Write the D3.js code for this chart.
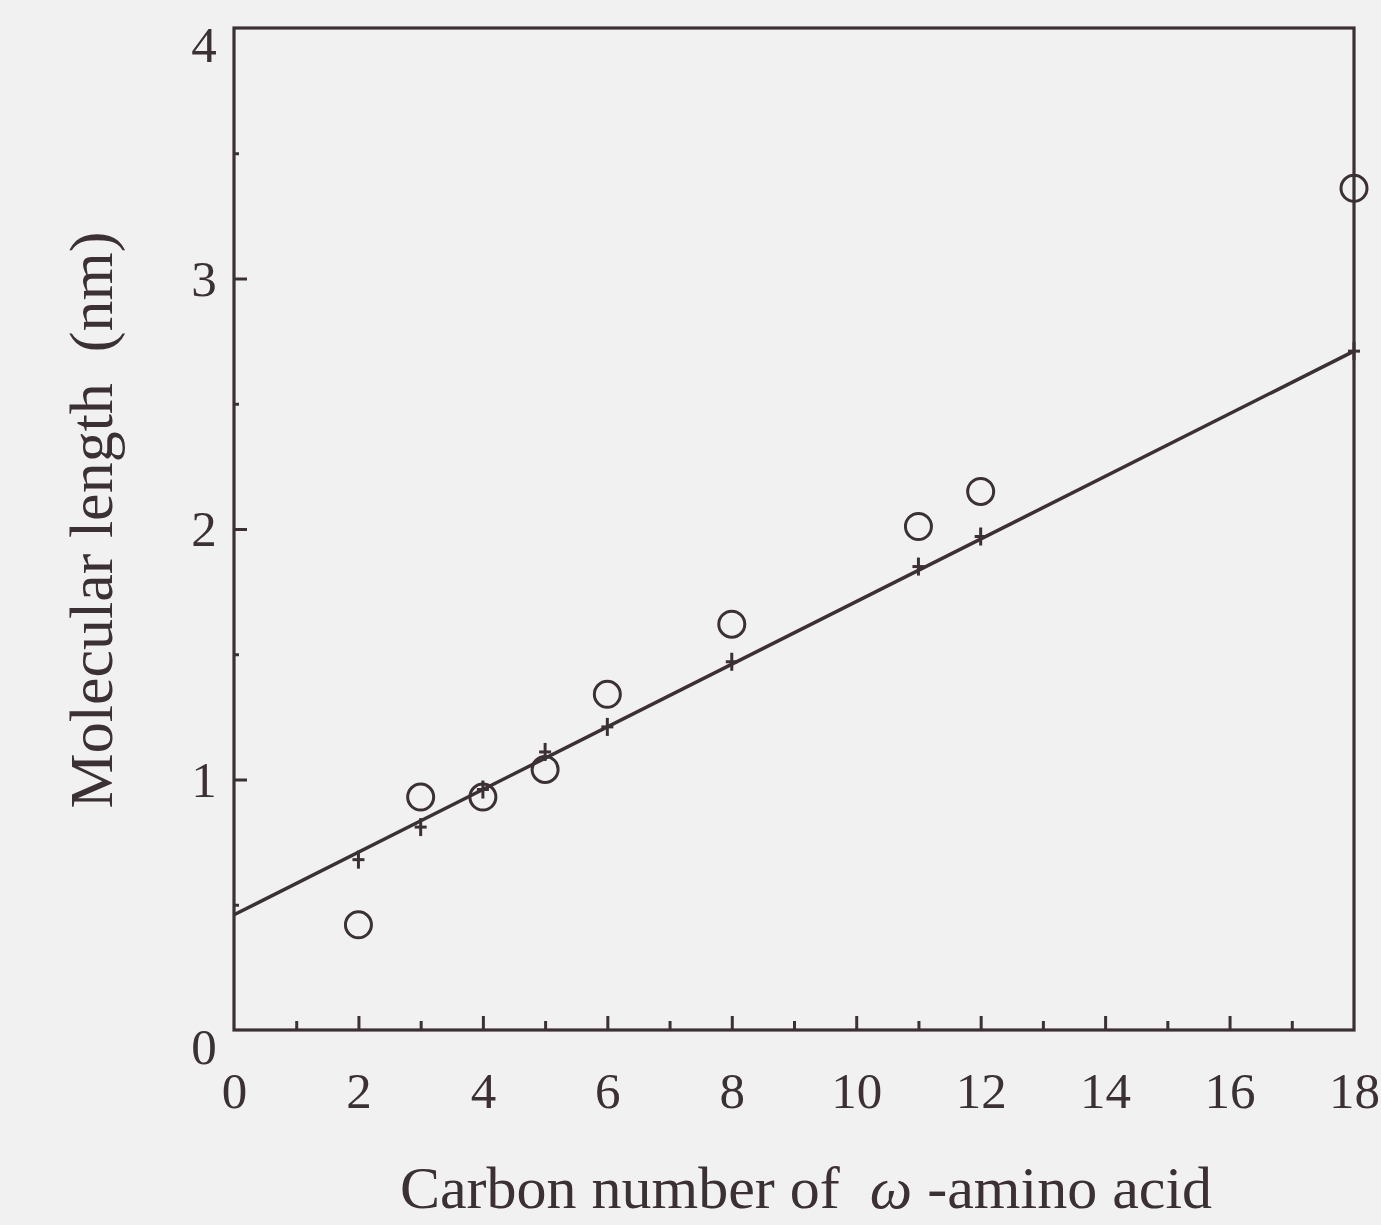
<!DOCTYPE html>
<html>
<head>
<meta charset="utf-8">
<script src="https://cdn.jsdelivr.net/npm/d3@7"></script>
<style>
  body { margin: 0; background: #f2f1f1; }
  text { font-family: "Liberation Serif", "Times New Roman", serif; fill: #3b3034; }
</style>
</head>
<body>
<div id="chart"></div>
<script>
// measured molecular length (circles)
const measX = [2, 3, 4, 5, 6, 8, 11, 12, 18];
const measY = [0.42, 0.93, 0.93, 1.04, 1.34, 1.62, 2.01, 2.15, 3.36];
// calculated length (plus marks)
const calcX = [2, 3, 4, 5, 6, 8, 11, 12, 18];
const calcY = [0.68, 0.81, 0.96, 1.11, 1.21, 1.47, 1.85, 1.97, 2.71];
// fitted line end points
const fitX = [0, 18];
const fitY = [0.46, 2.71];

const xTicks = [0, 2, 4, 6, 8, 10, 12, 14, 16, 18];
const yTicks = [0, 1, 2, 3, 4];

const width = 1381, height = 1225;
const ink = "#3b3034";

const svg = d3.select("#chart")
    .append("svg")
    .attr("width", width)
    .attr("height", height);

var x = d3.scaleLinear()
    .domain([0, 18])
    .range([234, 1354]);

var y = d3.scaleLinear()
    .domain([0, 4])
    .range([1030, 28]);

// frame
svg.append("rect")
    .attr("x", x(0))
    .attr("y", y(4))
    .attr("width", x(18) - x(0))
    .attr("height", y(0) - y(4))
    .attr("fill", "none")
    .attr("stroke", ink)
    .attr("stroke-width", 3.2);

// x ticks, pointing inward; minor ones at odd numbers
svg.append("g")
    .attr("transform", `translate(0, ${y(0)})`)
    .call(d3.axisTop(x).tickValues(d3.range(1, 18)).tickSize(0).tickFormat(""))
    .call(g => g.select(".domain").remove())
    .call(g => g.selectAll(".tick line")
        .attr("y2", d => d % 2 == 0 ? -14 : -9)
        .attr("stroke", ink)
        .attr("stroke-width", 3));

svg.append("g")
    .attr("transform", `translate(0, ${y(0)})`)
    .call(d3.axisBottom(x).tickValues(xTicks).tickSize(0).tickPadding(0))
    .call(g => g.select(".domain").remove())
    .call(g => g.selectAll(".tick text")
        .attr("y", 78)
        .attr("dy", null)
        .attr("font-size", 51)
        .attr("font-family", "Liberation Serif")
        .attr("fill", ink));

// y ticks, major at integers, minor at halves
svg.append("g")
    .attr("transform", `translate(${x(0)}, 0)`)
    .call(d3.axisRight(y).tickValues(d3.range(0.5, 4, 0.5)).tickSize(0).tickFormat(""))
    .call(g => g.select(".domain").remove())
    .call(g => g.selectAll(".tick line")
        .attr("x2", d => d % 1 == 0 ? 13 : 5)
        .attr("stroke", ink)
        .attr("stroke-width", 3));

svg.append("g")
    .selectAll("text")
    .data(yTicks)
    .enter()
    .append("text")
    .attr("x", 204)
    .attr("y", d => y(d) + (d == 0 || d == 4 ? 34 : 17))
    .attr("text-anchor", "middle")
    .attr("font-size", 51)
    .text(d => d);

// fitted line
svg.append("path")
    .datum(d3.zip(fitX, fitY))
    .attr("d", d3.line().x(d => x(d[0])).y(d => y(d[1])))
    .attr("fill", "none")
    .attr("stroke", ink)
    .attr("stroke-width", 3.5);

// calculated values as small plus marks
const plus = svg.append("g").selectAll("g")
    .data(d3.zip(calcX, calcY))
    .enter()
    .append("g")
    .attr("transform", d => `translate(${x(d[0])}, ${y(d[1])})`);
plus.append("line")
    .attr("x1", 0).attr("x2", 0).attr("y1", -9).attr("y2", 9)
    .attr("stroke", ink).attr("stroke-width", 3);
plus.append("line")
    .attr("x1", -6).attr("x2", 6).attr("y1", 0).attr("y2", 0)
    .attr("stroke", ink).attr("stroke-width", 3);

// measured values as open circles
svg.append("g").selectAll("circle")
    .data(d3.zip(measX, measY))
    .enter()
    .append("circle")
    .attr("cx", d => x(d[0]))
    .attr("cy", d => y(d[1]))
    .attr("r", 13)
    .attr("fill", "none")
    .attr("stroke", ink)
    .attr("stroke-width", 3);

// axis titles
svg.append("text")
    .attr("x", 806)
    .attr("y", 1208)
    .attr("text-anchor", "middle")
    .attr("font-size", 60)
    .attr("xml:space", "preserve")
    .html('Carbon number of  <tspan font-style="italic">ω</tspan> -amino acid');

svg.append("text")
    .attr("transform", "translate(112, 520) rotate(-90)")
    .attr("text-anchor", "middle")
    .attr("font-size", 62)
    .attr("xml:space", "preserve")
    .text("Molecular length  (nm)");
</script>
</body>
</html>
